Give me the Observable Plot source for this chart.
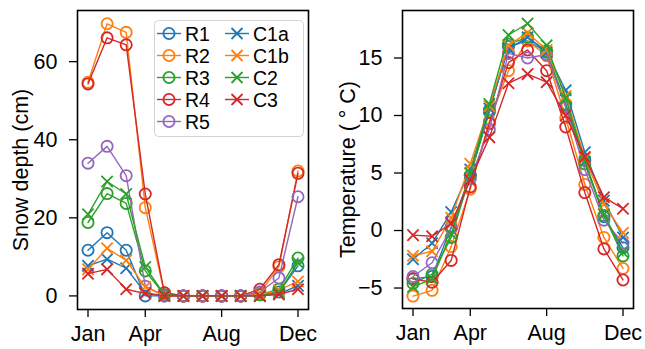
<!DOCTYPE html>
<html><head><meta charset="utf-8">
<script src="https://cdn.jsdelivr.net/npm/d3@7"></script>
<script src="https://cdn.jsdelivr.net/npm/@observablehq/plot@0.6"></script>
<style>
body{margin:0;background:#fff;}
#wrap{position:relative;width:645px;height:349px;overflow:hidden;font-family:"Liberation Sans",Arial,sans-serif;}
#left,#right{position:absolute;top:0;}
#left{left:0}
#right{left:330px}
#legend{position:absolute;left:154px;top:20px;}
</style></head><body>
<div id="wrap"><div id="left"></div><div id="right"></div><div id="legend"></div></div>
<script>
// ---- data ----
const monthNames = ["Jan","Feb","Mar","Apr","May","Jun","Jul","Aug","Sep","Oct","Nov","Dec"];
const tickMonths = [0, 3, 7, 11];
const seriesNames = ["R1","R2","R3","R4","R5","C1a","C1b","C2","C3"];
const seriesColors = ["#1f77b4","#ff7f0e","#2ca02c","#d62728","#9467bd","#1f77b4","#ff7f0e","#2ca02c","#d62728"];
const seriesSymbols = ["circle","circle","circle","circle","circle","times","times","times","times"];

// snow depth (cm)
const snowR1  = [11.7, 16.2, 11.7, 0.0, 0.0, 0, 0, 0, 0, 0.3, 1.0, 7.7];
const snowR2  = [54.7, 69.7, 67.5, 22.6, 0.8, 0, 0, 0, 0, 0.8, 7.5, 32.0];
const snowR3  = [18.8, 26.2, 23.7, 6.4, 0.3, 0, 0, 0, 0, 0.3, 1.7, 9.7];
const snowR4  = [54.3, 66.1, 64.3, 26.1, 0.8, 0, 0, 0, 0, 1.7, 8.0, 31.4];
const snowR5  = [34.0, 38.3, 30.8, 2.5, 0.0, 0, 0, 0, 0, 1.0, 4.6, 25.4];
const snowC1a = [7.7, 9.4, 7.1, 0.8, 0.0, 0, 0, 0, 0, 0.0, 0.5, 2.6];
const snowC1b = [6.8, 12.2, 9.1, 2.3, 0.0, 0, 0, 0, 0, 0.3, 1.5, 3.7];
const snowC2  = [20.9, 29.3, 26.1, 7.4, 0.3, 0, 0, 0, 0, 0.0, 1.0, 8.5];
const snowC3  = [5.7, 6.8, 1.7, 0.6, 0.0, 0, 0, 0, 0, 0.0, 0.4, 1.7];

// temperature (°C)
const tempR1  = [-4.2, -4.0, 0.3, 4.8, 10.5, 16.0, 16.5, 15.5, 11.0, 6.1, 1.2, -1.5];
const tempR2  = [-5.7, -5.2, -1.4, 3.6, 9.5, 13.9, 16.5, 15.2, 9.8, 4.0, -0.6, -3.3];
const tempR3  = [-4.6, -3.8, -0.6, 4.8, 10.3, 16.2, 16.8, 15.6, 10.9, 5.8, 1.3, -2.2];
const tempR4  = [-4.2, -4.5, -2.6, 3.8, 9.3, 14.6, 15.7, 13.9, 9.0, 3.3, -1.6, -4.3];
const tempR5  = [-4.0, -2.8, 0.2, 4.5, 8.8, 15.4, 15.0, 15.3, 10.7, 5.3, 0.9, -1.1];
const tempC1a = [-2.5, -1.1, 1.6, 5.3, 10.6, 15.8, 16.8, 15.5, 12.2, 6.8, 2.6, -0.6];
const tempC1b = [-2.2, -1.8, 1.1, 5.8, 10.8, 16.1, 17.2, 15.7, 11.7, 6.3, 2.3, -0.2];
const tempC2  = [-4.9, -4.2, -0.3, 5.0, 11.0, 17.0, 18.0, 16.1, 11.5, 6.0, 1.4, -1.9];
const tempC3  = [-0.4, -0.5, 0.6, 4.4, 8.1, 12.8, 13.6, 12.9, 10.0, 6.4, 2.9, 1.9];

const snowTicks = [0, 20, 40, 60];
const tempTicks = [-5, 0, 5, 10, 15];

const snowSeries = [snowR1, snowR2, snowR3, snowR4, snowR5, snowC1a, snowC1b, snowC2, snowC3];
const tempSeries = [tempR1, tempR2, tempR3, tempR4, tempR5, tempC1a, tempC1b, tempC2, tempC3];

// ---- drawing ----
const FONT = "'Liberation Sans', Arial, Helvetica, sans-serif";
const FS = 21.5;
const LEGEND_FS = 19.5;

function seriesMarks(seriesList) {
  const marks = [];
  seriesList.forEach((vals, i) => {
    const rows = vals.map((v, m) => ({m, v}));
    marks.push(Plot.line(rows, {x: "m", y: "v", stroke: seriesColors[i], strokeWidth: 1.4}));
    marks.push(Plot.dot(rows, {
      x: "m", y: "v", stroke: seriesColors[i], fill: "none",
      symbol: seriesSymbols[i], r: seriesSymbols[i] === "circle" ? 5.6 : 5.2, strokeWidth: 1.8
    }));
  });
  return marks;
}

function panel(seriesList, cfg) {
  return Plot.plot({
    width: cfg.width, height: 349,
    marginLeft: cfg.marginLeft, marginRight: cfg.marginRight,
    marginTop: 10, marginBottom: cfg.marginBottom,
    style: {fontFamily: FONT, fontSize: FS + "px", color: "black", background: "white", overflow: "visible"},
    x: {domain: [-0.55, 11.55]},
    y: {domain: cfg.yDomain},
    marks: [
      ...seriesMarks(seriesList),
      Plot.frame({stroke: "black", strokeWidth: 1.6}),
      Plot.axisX({ticks: tickMonths, tickFormat: i => monthNames[i], tickSize: 8, tickPadding: 8, strokeWidth: 1.3, label: null}),
      Plot.axisY({ticks: cfg.yTicks, tickSize: 8, tickPadding: 12, strokeWidth: 1.3, label: null}),
      Plot.text([cfg.yLabel], {
        text: d => d, frameAnchor: "left", rotate: -90, lineAnchor: "top", textAnchor: "middle",
        dx: cfg.labelDx, dy: 10, fontSize: FS, fill: "black"
      })
    ]
  });
}

document.getElementById("left").append(panel(snowSeries, {
  width: 330, marginLeft: 77, marginRight: 22, marginBottom: 40,
  yDomain: [-3.48, 73.1], yTicks: snowTicks, yLabel: "Snow depth (cm)", labelDx: -65
}));
document.getElementById("right").append(panel(tempSeries, {
  width: 315, marginLeft: 72, marginRight: 12, marginBottom: 41,
  yDomain: [-6.78, 19.13], yTicks: tempTicks, yLabel: "Temperature ( \u00B0 C)", labelDx: -63
}));

// ---- legend ----
(function legend() {
  const W = 149, H = 116;
  const svg = d3.select("#legend").append("svg").attr("width", W + 2).attr("height", H + 2)
    .style("overflow", "visible");
  svg.append("rect").attr("x", 0.5).attr("y", 0.5).attr("width", W).attr("height", H)
    .attr("rx", 4).attr("fill", "white").attr("fill-opacity", 0.8).attr("stroke", "#d4d4d4");
  const rowY = i => 13.5 + i * 22;
  seriesNames.forEach((name, i) => {
    const col = i < 5 ? 0 : 1;
    const row = i < 5 ? i : i - 5;
    const cx = col === 0 ? 15 : 83;
    const y = rowY(row);
    const g = svg.append("g").attr("transform", `translate(${cx},${y})`);
    g.append("line").attr("x1", -12).attr("x2", 12).attr("stroke", seriesColors[i]).attr("stroke-width", 1.4);
    if (seriesSymbols[i] === "circle") {
      g.append("circle").attr("r", 5.6).attr("fill", "none").attr("stroke", seriesColors[i]).attr("stroke-width", 1.8);
    } else {
      g.append("path").attr("d", "M-5.5,-5.5L5.5,5.5M-5.5,5.5L5.5,-5.5").attr("stroke", seriesColors[i]).attr("stroke-width", 1.8);
    }
    svg.append("text").attr("x", cx + 16).attr("y", y).attr("dy", "0.36em")
      .attr("font-family", FONT).attr("font-size", LEGEND_FS).attr("fill", "black").text(name);
  });
})();
</script>
</body></html>
